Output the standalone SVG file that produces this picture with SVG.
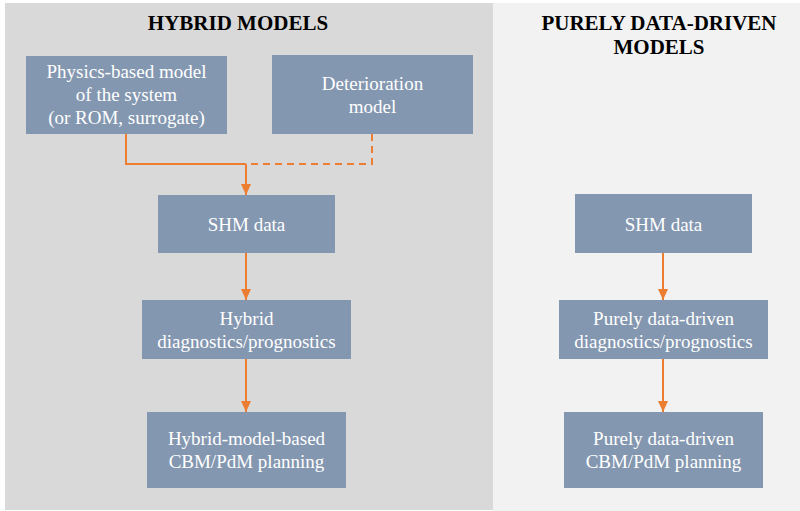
<svg xmlns="http://www.w3.org/2000/svg" width="800" height="511" viewBox="0 0 800 511">
<defs>
<style>
.box{fill:#8497b0}
.t{font-family:"Liberation Serif","Times New Roman",Tinos,"DejaVu Serif",serif;font-size:19px;fill:#ffffff;text-anchor:middle}
.h{font-family:"Liberation Serif","Times New Roman",Tinos,"DejaVu Serif",serif;font-size:21px;font-weight:bold;fill:#000000;text-anchor:middle}
.c{fill:none;stroke:#ed7d31;stroke-width:2}
.d{stroke-dasharray:7 5}
</style>
<marker id="ah" markerWidth="11" markerHeight="10" refX="11" refY="5" orient="auto" markerUnits="userSpaceOnUse" viewBox="0 0 11 10">
<path d="M0,0 L11,5 L0,10 Z" fill="#ed7d31"/>
</marker>
</defs>
<rect x="0" y="0" width="800" height="511" fill="#ffffff"/>
<rect id="panel-hybrid" x="5" y="3" width="488" height="507" fill="#d9d9d9"/>
<rect id="panel-data" x="493" y="3" width="307" height="508" fill="#f2f2f2"/>
<text class="h" x="238" y="30">HYBRID MODELS</text>
<text class="h" x="659" y="30">PURELY DATA-DRIVEN</text>
<text class="h" x="659" y="54">MODELS</text>
<g id="connectors">
<path class="c" d="M126,134 V164 H246"/>
<path class="c d" d="M372,134 V164 H246"/>
<line class="c" x1="246" y1="164" x2="246" y2="195" marker-end="url(#ah)"/>
<line class="c" x1="246" y1="253" x2="246" y2="300" marker-end="url(#ah)"/>
<line class="c" x1="246" y1="359" x2="246" y2="412" marker-end="url(#ah)"/>
<line class="c" x1="663" y1="253" x2="663" y2="300" marker-end="url(#ah)"/>
<line class="c" x1="663" y1="359" x2="663" y2="412" marker-end="url(#ah)"/>
</g>
<g id="physics">
<rect class="box" x="26" y="56" width="201" height="78"/>
<text class="t" x="126.5" y="78" font-family="Liberation Serif, serif">Physics-based model</text>
<text class="t" x="126.5" y="101" font-family="Liberation Serif, serif">of the system</text>
<text class="t" x="126.5" y="124" font-family="Liberation Serif, serif">(or ROM, surrogate)</text>
</g>
<g id="deterioration">
<rect class="box" x="272" y="55" width="201" height="79"/>
<text class="t" x="372.5" y="90">Deterioration</text>
<text class="t" x="372.5" y="113">model</text>
</g>
<g id="shm-hybrid">
<rect class="box" x="158" y="195" width="177" height="58"/>
<text class="t" x="246.5" y="231">SHM data</text>
</g>
<g id="diag-hybrid">
<rect class="box" x="142" y="300" width="209" height="59"/>
<text class="t" x="246.5" y="325">Hybrid</text>
<text class="t" x="246.5" y="348">diagnostics/prognostics</text>
</g>
<g id="cbm-hybrid">
<rect class="box" x="147" y="412" width="199" height="76"/>
<text class="t" x="246.5" y="445">Hybrid-model-based</text>
<text class="t" x="246.5" y="468">CBM/PdM planning</text>
</g>
<g id="shm-data">
<rect class="box" x="575" y="194" width="177" height="59"/>
<text class="t" x="663.5" y="231">SHM data</text>
</g>
<g id="diag-data">
<rect class="box" x="559" y="300" width="209" height="59"/>
<text class="t" x="663.5" y="325">Purely data-driven</text>
<text class="t" x="663.5" y="348">diagnostics/prognostics</text>
</g>
<g id="cbm-data">
<rect class="box" x="564" y="412" width="199" height="76"/>
<text class="t" x="663.5" y="445">Purely data-driven</text>
<text class="t" x="663.5" y="468">CBM/PdM planning</text>
</g>
</svg>
